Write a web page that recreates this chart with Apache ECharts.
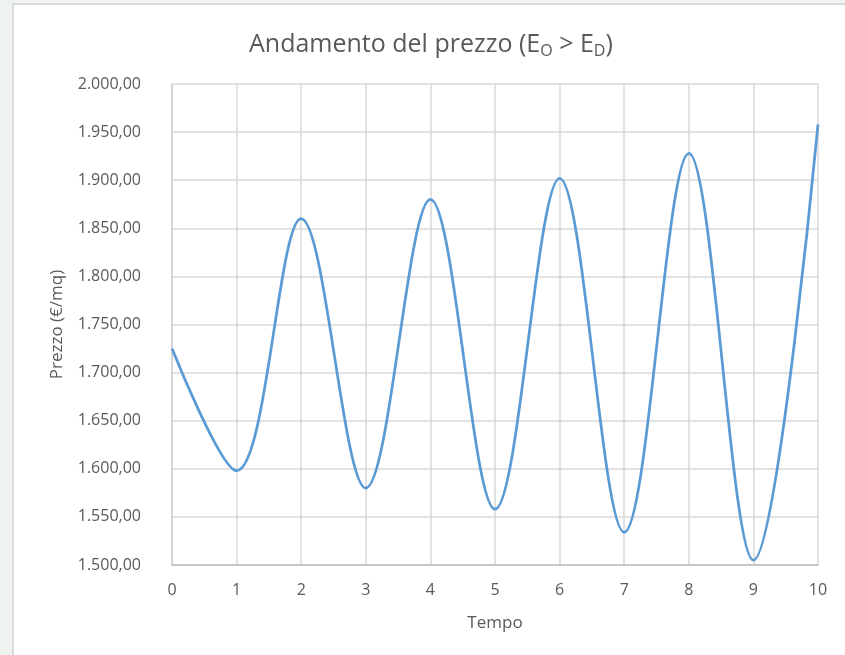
<!DOCTYPE html>
<html>
<head>
<meta charset="utf-8">
<script src="https://cdn.jsdelivr.net/npm/echarts@6/dist/echarts.min.js"></script>
<style>
html,body{margin:0;padding:0;background:#eef3ef;width:845px;height:655px;overflow:hidden;}
#frame{position:absolute;left:12px;top:3px;width:840px;height:660px;background:#fff;border-left:2px solid #dcdcdc;border-top:2px solid #dcdcdc;}
#chart{position:absolute;left:0;top:0;width:845px;height:655px;}
</style>
</head>
<body>
<div id="frame"></div>
<div id="chart"></div>
<script>
const tempo = [0, 1, 2, 3, 4, 5, 6, 7, 8, 9, 10];
const prezzo = [1725, 1598, 1860, 1580, 1880, 1558, 1902, 1534, 1928, 1505, 1958];
const yTicks = {min: 1500, max: 2000, step: 50};

const chart = echarts.init(document.getElementById('chart'), null, {renderer: 'canvas'});
const fontFam = '"Open Sans", "Noto Sans", sans-serif';
function fmt(v){
  const s = v.toFixed(2).split('.');
  return s[0].replace(/\B(?=(\d{3})+(?!\d))/g, '.') + ',' + s[1];
}
chart.setOption({
  backgroundColor: 'transparent',
  animation: false,
  title: {
    text: 'Andamento del prezzo (E{sub|O} > E{sub|D})',
    left: 244, top: 26,
    textStyle: {
      fontFamily: fontFam, fontSize: 25, fontWeight: 'normal', color: '#595959',
      rich: { sub: {fontSize: 16, color: '#595959', fontFamily: fontFam, verticalAlign: 'bottom', padding: [12,0,0,0]} }
    }
  },
  grid: {left: 172, right: 27, top: 84, bottom: 90},
  xAxis: {
    type: 'value', min: 0, max: 10, interval: 1,
    name: 'Tempo', nameLocation: 'middle', nameGap: 50,
    nameTextStyle: {fontFamily: fontFam, fontSize: 17, color: '#595959'},
    axisLine: {show: true, lineStyle: {color: '#bfbfbf', width: 1.5}},
    axisTick: {show: false},
    axisLabel: {fontFamily: fontFam, fontSize: 16, color: '#595959', margin: 17},
    splitLine: {show: true, lineStyle: {color: '#d9d9d9', width: 1.5}}
  },
  yAxis: {
    type: 'value', min: yTicks.min, max: yTicks.max, interval: yTicks.step,
    name: 'Prezzo (€/mq)', nameLocation: 'middle', nameGap: 106, nameRotate: 90,
    nameTextStyle: {fontFamily: fontFam, fontSize: 17, color: '#595959'},
    axisLine: {show: true, lineStyle: {color: '#d0d0d0', width: 1.5}},
    axisTick: {show: false},
    axisLabel: {fontFamily: fontFam, fontSize: 16, color: '#595959', margin: 31, formatter: fmt},
    splitLine: {show: true, lineStyle: {color: '#d9d9d9', width: 1.5}}
  },
  series: [{
    type: 'line',
    data: tempo.map((t, i) => [t, prezzo[i]]),
    smooth: 0.35,
    showSymbol: false,
    lineStyle: {color: '#5b9bd5', width: 2.75},
    itemStyle: {color: '#5b9bd5'}
  }]
});
</script>
</body>
</html>
